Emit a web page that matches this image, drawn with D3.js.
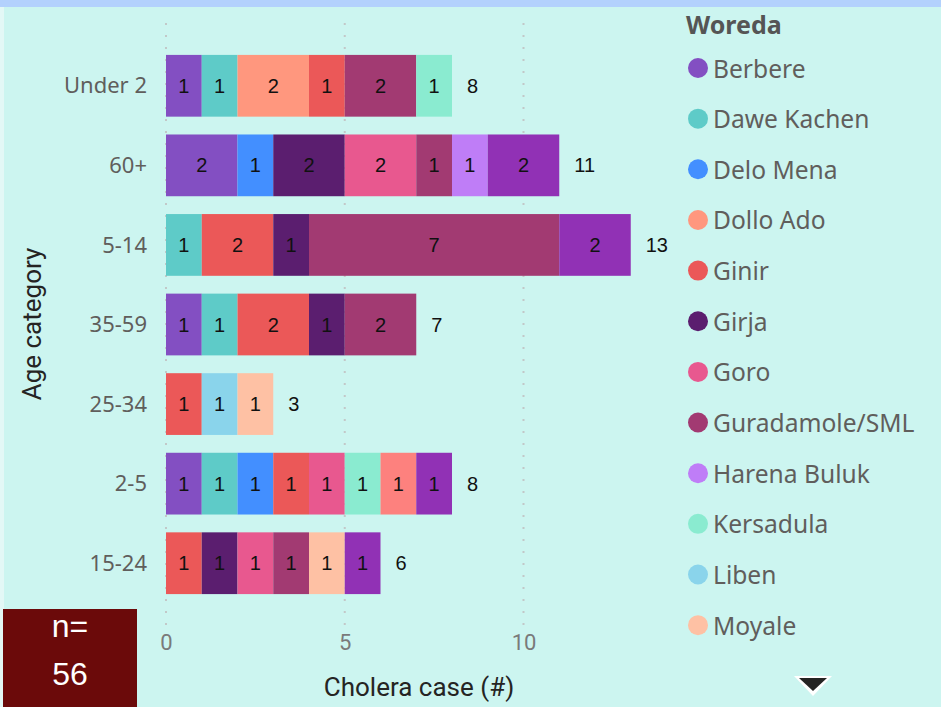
<!DOCTYPE html>
<html>
<head>
<meta charset="utf-8">
<script src="https://cdn.jsdelivr.net/npm/d3@7"></script>
<style>
  body { margin: 0; background: #ccf5f0; }
  svg { display: block; }
</style>
</head>
<body>
<svg id="chart" width="941" height="707"></svg>
<script>
const ageCategories = ["Under 2", "60+", "5-14", "35-59", "25-34", "2-5", "15-24"];

// the legend is scrolled: the last two woredas are not visible in the picture
const woredas = ["Berbere", "Dawe Kachen", "Delo Mena", "Dollo Ado", "Ginir", "Girja", "Goro",
                 "Guradamole/SML", "Harena Buluk", "Kersadula", "Liben", "Moyale", "Woreda 13", "Woreda 14"];
const woredaColors = ["#834fc2", "#5ecbc8", "#438fff", "#ff977e", "#eb5858", "#5b1e6f", "#e8588f",
                      "#a23a72", "#bf7df7", "#8aebd0", "#8ad4eb", "#fec1a4", "#fd817e", "#9131b5"];

// cases per age category, one value per woreda (same order as woredas)
const casesUnder2 = [1, 1, 0, 2, 1, 0, 0, 2, 0, 1, 0, 0, 0, 0];
const cases60plus = [2, 0, 1, 0, 0, 2, 2, 1, 1, 0, 0, 0, 0, 2];
const cases5to14  = [0, 1, 0, 0, 2, 1, 0, 7, 0, 0, 0, 0, 0, 2];
const cases35to59 = [1, 1, 0, 0, 2, 1, 0, 2, 0, 0, 0, 0, 0, 0];
const cases25to34 = [0, 0, 0, 0, 1, 0, 0, 0, 0, 0, 1, 1, 0, 0];
const cases2to5   = [1, 1, 1, 0, 1, 0, 1, 0, 0, 1, 0, 0, 1, 1];
const cases15to24 = [0, 0, 0, 0, 1, 1, 1, 1, 0, 0, 0, 1, 0, 1];
const caseRows = [casesUnder2, cases60plus, cases5to14, cases35to59, cases25to34, cases2to5, cases15to24];

const xTicks = [0, 5, 10];
const totalCases = 56;

const width = 941, height = 707;
const svg = d3.select("#chart");

const labelFont = "'Noto Sans', 'Open Sans', sans-serif";
const dinFont = "Roboto, 'Noto Sans', sans-serif";
const valueFont = "'Liberation Sans', Arial, sans-serif";

// background pieces
svg.append("rect").attr("width", width).attr("height", height).attr("fill", "#ccf5f0");
svg.append("rect").attr("width", width).attr("height", 7).attr("fill", "#b3d1fd");
svg.append("rect").attr("y", 7).attr("width", 4).attr("height", height - 7).attr("fill", "#e3f8f6");

const rows = ageCategories.map((a, i) => {
    const r = {age: a};
    woredas.forEach((w, j) => r[w] = caseRows[i][j]);
    r.total = d3.sum(caseRows[i]);
    return r;
});

const x = d3.scaleLinear().domain([0, 10]).range([166, 523.5]);
const y = d3.scaleBand().domain(ageCategories).range([46, 603])
    .paddingInner(0.224).paddingOuter(0.112);
const color = d3.scaleOrdinal().domain(woredas).range(woredaColors);

// dotted gridlines
svg.append("g").selectAll("line")
    .data(xTicks)
    .join("line")
    .attr("x1", d => x(d)).attr("x2", d => x(d))
    .attr("y1", 23).attr("y2", 632)
    .attr("stroke", "#c2c8c8")
    .attr("stroke-width", 2)
    .attr("stroke-dasharray", "2 10");

const series = d3.stack().keys(woredas)(rows);

const layers = svg.append("g").selectAll("g")
    .data(series)
    .join("g")
    .attr("fill", d => color(d.key));

layers.selectAll("rect")
    .data(d => d.filter(p => p[1] > p[0]))
    .join("rect")
    .attr("x", d => x(d[0]))
    .attr("y", d => y(d.data.age))
    .attr("width", d => x(d[1]) - x(d[0]))
    .attr("height", y.bandwidth());

layers.selectAll("text")
    .data(d => d.filter(p => p[1] > p[0]))
    .join("text")
    .attr("x", d => (x(d[0]) + x(d[1])) / 2)
    .attr("y", d => y(d.data.age) + y.bandwidth() / 2)
    .attr("text-anchor", "middle")
    .attr("dominant-baseline", "central")
    .attr("font-family", valueFont)
    .attr("font-size", "20px")
    .attr("fill", "#111")
    .text(d => d[1] - d[0]);

// totals
svg.append("g").selectAll("text")
    .data(rows)
    .join("text")
    .attr("x", d => x(d.total) + 15)
    .attr("y", d => y(d.age) + y.bandwidth() / 2)
    .attr("dominant-baseline", "central")
    .attr("font-family", valueFont)
    .attr("font-size", "20px")
    .attr("fill", "#111")
    .text(d => d.total);

// y axis labels
const yAxis = svg.append("g")
    .attr("transform", "translate(147,0)")
    .call(d3.axisLeft(y).tickSize(0).tickPadding(0));
yAxis.select(".domain").remove();
yAxis.selectAll("text")
    .attr("font-family", labelFont)
    .attr("font-size", "22px")
    .attr("fill", "#605e5c")
    .attr("dy", "0.35em");

// x axis labels
const xAxis = svg.append("g")
    .attr("transform", "translate(0,637)")
    .call(d3.axisBottom(x).tickValues(xTicks).tickSize(0).tickPadding(0));
xAxis.select(".domain").remove();
xAxis.selectAll("text")
    .attr("font-family", dinFont)
    .attr("font-size", "22px")
    .attr("fill", "#7a7a7a")
    .attr("dy", "0.6em");

// axis titles
svg.append("text")
    .attr("x", 419).attr("y", 696)
    .attr("text-anchor", "middle")
    .attr("font-family", dinFont)
    .attr("font-size", "26px")
    .attr("fill", "#252423")
    .text("Cholera case (#)");

svg.append("text")
    .attr("transform", "translate(41,324) rotate(-90)")
    .attr("text-anchor", "middle")
    .attr("font-family", dinFont)
    .attr("font-size", "26px")
    .attr("fill", "#252423")
    .text("Age category");

// n= card
svg.append("rect")
    .attr("x", 3).attr("y", 609).attr("width", 134).attr("height", 98)
    .attr("fill", "#6b0a0a");
svg.append("text")
    .attr("x", 70).attr("y", 626)
    .attr("text-anchor", "middle").attr("dominant-baseline", "central")
    .attr("font-family", valueFont).attr("font-size", "32px").attr("fill", "#fff")
    .text("n=");
svg.append("text")
    .attr("x", 70).attr("y", 674)
    .attr("text-anchor", "middle").attr("dominant-baseline", "central")
    .attr("font-family", valueFont).attr("font-size", "32px").attr("fill", "#fff")
    .text(totalCases);

// legend
const legend = svg.append("g");
legend.append("text")
    .attr("x", 686).attr("y", 34)
    .attr("font-family", labelFont)
    .attr("font-weight", 700)
    .attr("font-size", "25px")
    .attr("fill", "#555")
    .text("Woreda");

const shown = woredas.slice(0, 12);
const item = legend.selectAll("g.item")
    .data(shown)
    .join("g")
    .attr("class", "item")
    .attr("transform", (d, i) => `translate(0,${68 + i * 50.65})`);
item.append("circle")
    .attr("cx", 698).attr("r", 10)
    .attr("fill", d => color(d));
item.append("text")
    .attr("x", 713)
    .attr("dominant-baseline", "central")
    .attr("font-family", labelFont)
    .attr("font-size", "24.6px")
    .attr("fill", "#605e5c")
    .text(d => d);

// scroll arrow
legend.append("path")
    .attr("d", "M794,676 L832,676 L813,696 Z")
    .attr("fill", "#fff");
legend.append("path")
    .attr("d", "M799,678 L827,678 L813,691 Z")
    .attr("fill", "#252423");
</script>
</body>
</html>
